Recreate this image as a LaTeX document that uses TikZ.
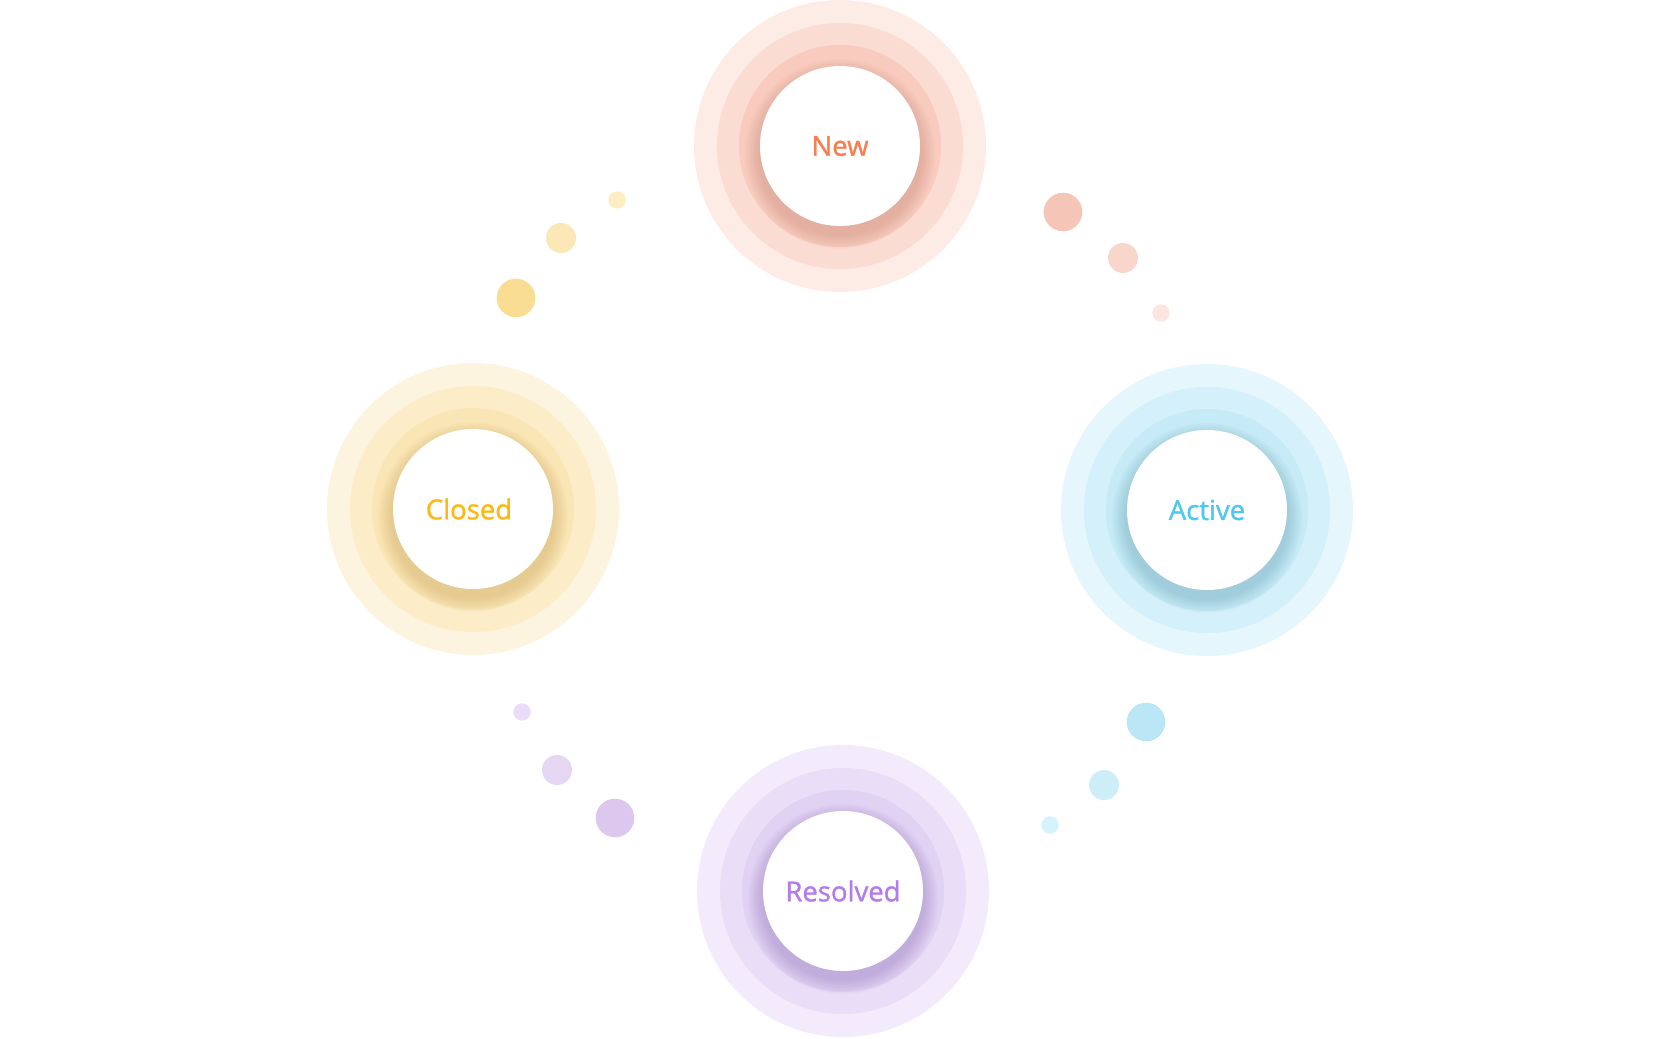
\documentclass[tikz,border=0pt]{standalone}
\usepackage{fontspec}
\setmainfont{Open Sans}[FakeBold=1.2]
\usetikzlibrary{calc}
\definecolor{new1}{HTML}{FDEBE5}
\definecolor{new2}{HTML}{FBDCD3}
\definecolor{new3}{HTML}{F8CBBE}
\definecolor{new4}{HTML}{C0806F}
\definecolor{newT}{HTML}{FA7D50}
\definecolor{act1}{HTML}{E5F6FC}
\definecolor{act2}{HTML}{D4F0FA}
\definecolor{act3}{HTML}{C6EAF6}
\definecolor{act4}{HTML}{5E9CB0}
\definecolor{actT}{HTML}{4FC8F0}
\definecolor{res1}{HTML}{F3EBFB}
\definecolor{res2}{HTML}{EADDF7}
\definecolor{res3}{HTML}{E1D1F3}
\definecolor{res4}{HTML}{8E70B5}
\definecolor{resT}{HTML}{B57BEB}
\definecolor{clo1}{HTML}{FDF4E0}
\definecolor{clo2}{HTML}{FCEDC8}
\definecolor{clo3}{HTML}{FAE5B5}
\definecolor{clo4}{HTML}{C4A04E}
\definecolor{cloT}{HTML}{FDB913}
\definecolor{newDa}{HTML}{F5C6B8}
\definecolor{newDb}{HTML}{F8D6CC}
\definecolor{newDc}{HTML}{FCE6DF}
\definecolor{actDa}{HTML}{BAE6F6}
\definecolor{actDb}{HTML}{CDEDF7}
\definecolor{actDc}{HTML}{D5F3FB}
\definecolor{resDa}{HTML}{DCC8EE}
\definecolor{resDb}{HTML}{E5D7F2}
\definecolor{resDc}{HTML}{EADDF7}
\definecolor{cloDa}{HTML}{F9DD93}
\definecolor{cloDb}{HTML}{FCE8B6}
\definecolor{cloDc}{HTML}{FDEDC2}
\tikzset{
    stage/.style={font=\fontsize{27.5}{30}\selectfont, text=#1, inner sep=0pt},
    dot/.style={fill=#1}
}
\begin{document}
\begin{tikzpicture}[x=1pt,y=-1pt]
    \useasboundingbox (0,0) rectangle (1680,1038);
    \coordinate (N) at (840,146);
    \coordinate (A) at (1207,510);
    \coordinate (R) at (843,891);
    \coordinate (C) at (473,509);
    \foreach \p/\s in {N/new,A/act,R/res,C/clo}{
        \fill[fill=\s1] (\p) circle (146);
        \fill[fill=\s2] (\p) circle (123);
        \fill[fill=\s3] (\p) circle (101);
        \foreach \k in {1,...,10}
            \fill[fill=\s4,opacity=0.04] ($(\p)+(0,8)$) circle ({80+1.5*\k});
        \fill[white] (\p) circle (80);
    }
    \node[stage=newT] (n) at (N) {New};
    \node[stage=actT] (a) at (A) {Active};
    \node[stage=resT] (r) at (R) {Resolved};
    \node[stage=cloT] (c) at ($(C)+(-4,0)$) {Closed};
    \fill[dot=newDa] (1063,212) circle (19.3);
    \fill[dot=newDb] (1123,258) circle (15);
    \fill[dot=newDc] (1161,313) circle (8.7);
    \fill[dot=actDa] (1146,722) circle (19.3);
    \fill[dot=actDb] (1104,785) circle (15);
    \fill[dot=actDc] (1050,825) circle (8.7);
    \fill[dot=resDa] (615,818) circle (19.3);
    \fill[dot=resDb] (557,770) circle (15);
    \fill[dot=resDc] (522,712) circle (8.7);
    \fill[dot=cloDa] (516,298) circle (19.3);
    \fill[dot=cloDb] (561,238) circle (15);
    \fill[dot=cloDc] (617,200) circle (8.7);
\end{tikzpicture}
\end{document}
